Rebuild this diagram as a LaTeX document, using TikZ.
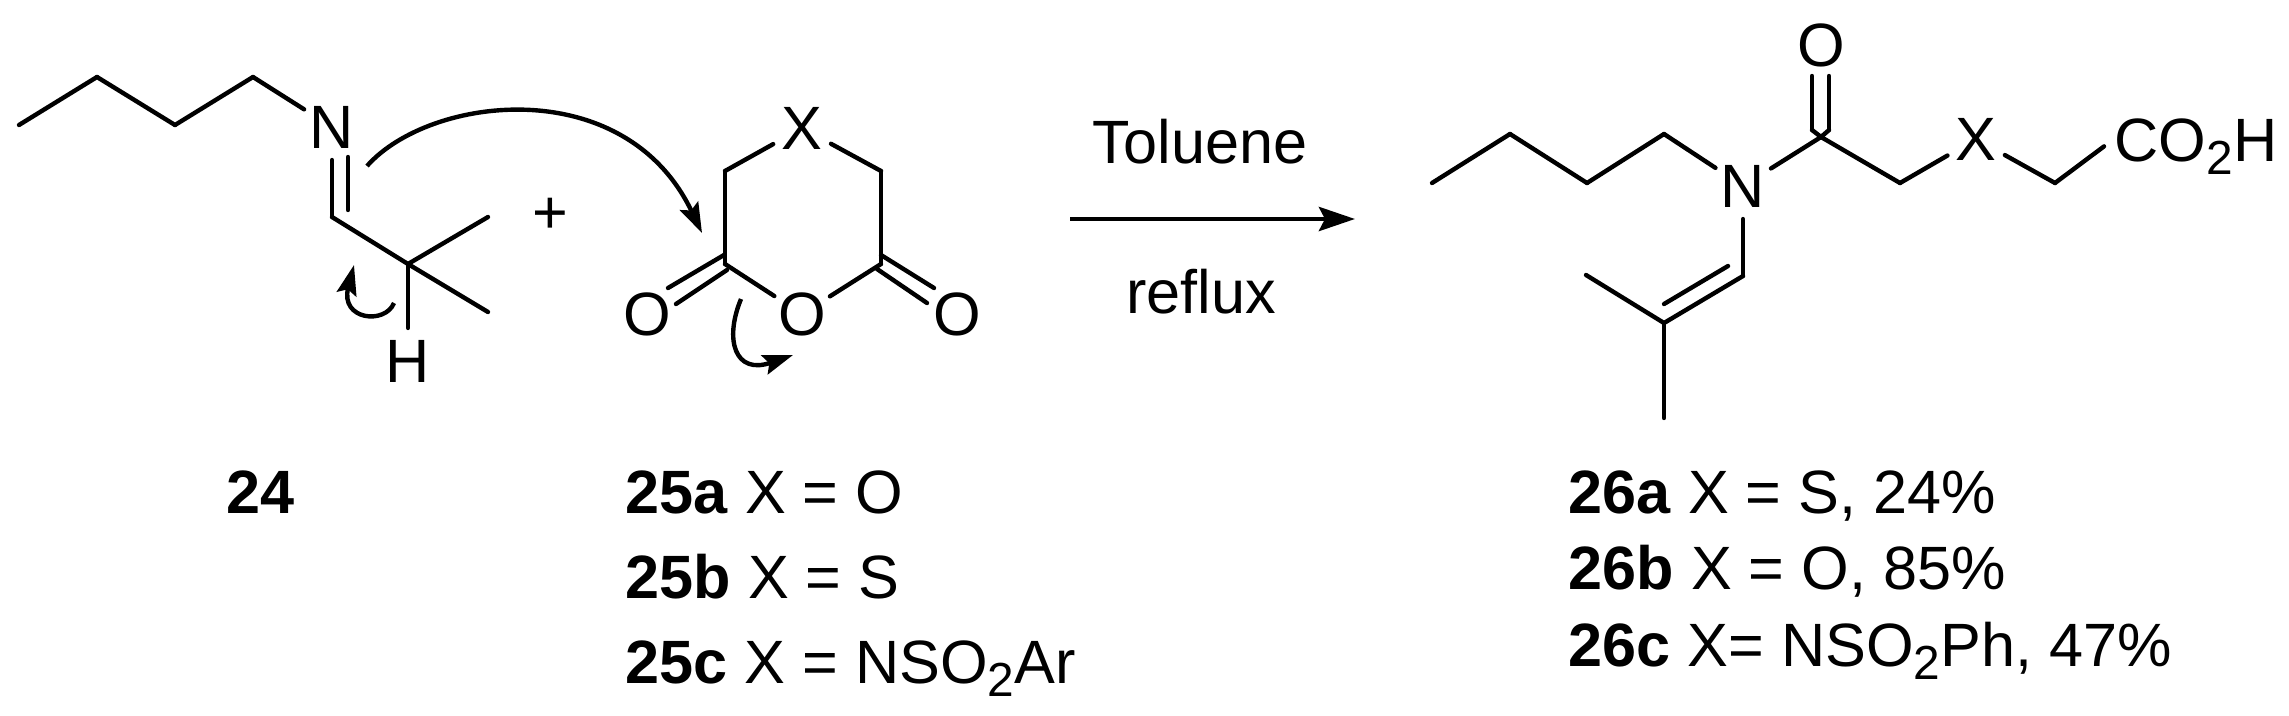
\documentclass[tikz,border=0pt]{standalone}
\usepackage{fontspec}
\setmainfont{Liberation Sans}
\usetikzlibrary{arrows.meta}
\newcommand{\subtwo}{\raisebox{-.22em}{\fontsize{13.6}{16}\selectfont 2}}
\tikzset{
  every node/.style={font=\fontsize{17.4}{21}\selectfont},
  atom/.style={circle,inner sep=0pt,outer sep=0pt,minimum size=.66cm},
  caption/.style={anchor=base west,inner sep=0pt},
  bond/.style={line width=1.25pt,line cap=round,line join=miter},
  push/.style={line width=1.25pt,-{Stealth[length=.3cm,width=.2cm,inset=.05cm]}}
}
\begin{document}
\begin{tikzpicture}[x=.01cm,y=-.01cm]
\useasboundingbox (0,0) rectangle (2289,715);
% imine 24
\coordinate (a1) at (19,125);
\coordinate (a2) at (97,77);
\coordinate (a3) at (175,125);
\coordinate (a4) at (253,77);
\node[atom] (aN) at (332,127) {N};
\coordinate (a5) at (332,217);
\coordinate (a6) at (408,264);
\coordinate (a7) at (488,217);
\coordinate (a8) at (488,312);
\node[atom] (aH) at (408,361) {H};
\coordinate (a5i) at (348,210);
\coordinate (aNi) at (348,157);
\node (plus) at (550,216) {+};
% anhydride 25
\node[atom] (bX) at (802,128) {X};
\coordinate (b1) at (725,171);
\coordinate (b2) at (725,264);
\coordinate (b3) at (881,171);
\coordinate (b4) at (881,264);
\node[atom] (bO) at (802,314) {O};
\node[atom] (bL) at (647,314) {O};
\node[atom] (bR) at (957,314) {O};
\coordinate (b5) at (724,255);
\coordinate (b6) at (668,288);
\coordinate (b7) at (727,270);
\coordinate (b8) at (676,304);
\coordinate (b9) at (881,255);
\coordinate (b10) at (934,288);
\coordinate (b11) at (877,269);
\coordinate (b12) at (927,303);
% product 26
\coordinate (c1) at (1432,183);
\coordinate (c2) at (1510,134);
\coordinate (c3) at (1587,183);
\coordinate (c4) at (1664,134);
\node[atom] (cN) at (1743,186) {N};
\coordinate (c5) at (1821,137);
\node[atom] (cO) at (1821,45) {O};
\coordinate (c6) at (1900,183);
\node[atom] (cX) at (1976,139) {X};
\coordinate (c7) at (2055,183);
\node[anchor=base west,inner sep=.1cm] (cA) at (2104,161) {CO\subtwo H};
\coordinate (c8) at (1743,276);
\coordinate (c9) at (1664,323);
\coordinate (c10) at (1586,275);
\coordinate (c11) at (1664,418);
\coordinate (c12) at (1728,266);
\coordinate (c13) at (1664,304);
\coordinate (c14) at (1812,76);
\coordinate (c15) at (1812,130);
\coordinate (c16) at (1829,76);
\coordinate (c17) at (1829,130);
\foreach \a/\b in {a1/a2,a2/a3,a3/a4,a4/aN,aN/a5,a5/a6,a6/a7,a6/a8,a6/aH,aNi/a5i,
  bX/b1,b1/b2,b2/bO,bX/b3,b3/b4,b4/bO,b5/b6,b7/b8,b9/b10,b11/b12,
  c1/c2,c2/c3,c3/c4,c4/cN,cN/c5,c5/c6,c6/cX,cX/c7,c7/cA.west,cN/c8,c8/c9,c9/c10,c9/c11,c12/c13,c14/c15,c16/c17}
\draw[bond] (\a) -- (\b);
\draw[bond] (c15) -- (c5) -- (c17);
% electron pushing
\coordinate (p1) at (367,166);
\coordinate (p2) at (702,233);
\coordinate (p3) at (394,303);
\coordinate (p4) at (354,265);
\coordinate (p5) at (741,299);
\coordinate (p6) at (793,355);
\draw[push] (p1) .. controls (430,95) and (625,72) .. (p2);
\draw[push] (p3) .. controls (385,325) and (340,320) .. (p4);
\draw[push] (p5) .. controls (724,340) and (735,375) .. (p6);
% conditions
\coordinate (r1) at (1070,219);
\coordinate (r2) at (1355,219);
\draw[line width=1.4pt,-{Stealth[length=.36cm,width=.24cm,inset=.06cm]}] (r1) -- (r2);
\node[anchor=base] (tol) at (1200,163) {Toluene};
\node[anchor=base] (ref) at (1201,313) {reflux};
% labels
\node[caption] (l24) at (226,513) {\textbf{24}};
\node[caption] (l25a) at (625,513) {\textbf{25a} X = O};
\node[caption] (l25b) at (625,598) {\textbf{25b} X = S};
\node[caption] (l25c) at (625,683) {\textbf{25c} X = NSO\subtwo Ar};
\node[caption] (l26a) at (1568,513) {\textbf{26a} X = S, 24\%};
\node[caption] (l26b) at (1568,589) {\textbf{26b} X = O, 85\%};
\node[caption] (l26c) at (1568,666) {\textbf{26c} X= NSO\subtwo Ph, 47\%};
\end{tikzpicture}
\end{document}
